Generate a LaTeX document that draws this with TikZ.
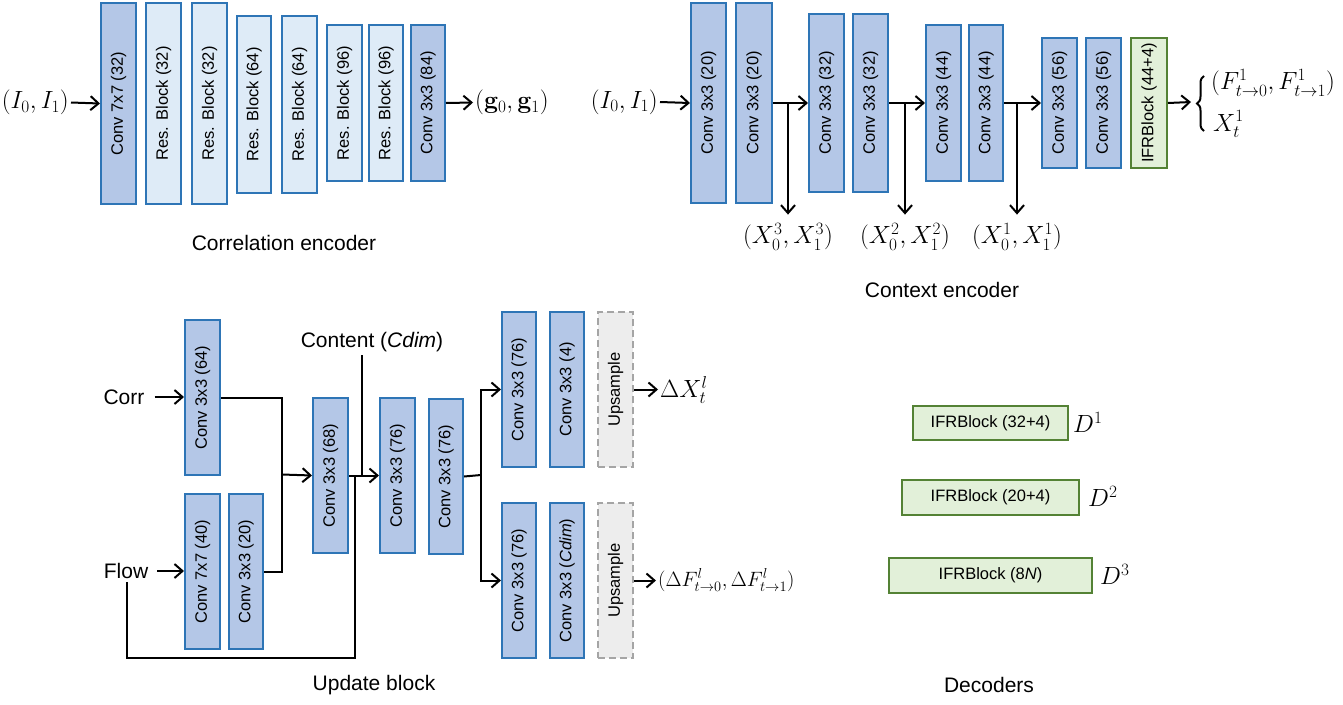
\documentclass[tikz,border=0pt]{standalone}
\usepackage[no-math]{fontspec}
\setmainfont{Liberation Sans}
\usepackage{graphicx}
\usetikzlibrary{arrows.meta,decorations.pathreplacing,calc}
\definecolor{bborder}{RGB}{46,117,182}
\definecolor{bfill}{RGB}{180,199,231}
\definecolor{lfill}{RGB}{222,235,247}
\definecolor{gborder}{RGB}{84,130,53}
\definecolor{gfill}{RGB}{226,240,217}
\definecolor{ugray}{RGB}{165,165,165}
\definecolor{ufill}{RGB}{237,237,237}
\tikzset{
  box/.style={draw=bborder, line width=2pt, fill=bfill, inner sep=0pt, font=\fontsize{16.5}{18}\selectfont},
  rbox/.style={box, fill=lfill},
  gbox/.style={box, draw=gborder, fill=gfill},
  ubox/.style={box, draw=ugray, fill=ufill, dash pattern=on 7pt off 4pt},
  conn/.style={line width=2pt, draw=black},
  arr/.style={conn, -{Straight Barb[length=8pt,width=14pt,line width=2pt]}},
  captext/.style={font=\fontsize{21}{24}\selectfont},
  mlab/.style={font=\fontsize{23}{26}\selectfont, inner sep=2pt},
}
\newcommand{\vb}[7]{\node[#6, anchor=north west, minimum width={(#4-#2)*1pt}, minimum height={(#5-#3)*1pt}] (#1) at (#2,#3) {\rotatebox{90}{#7}};}
\newcommand{\hb}[7]{\node[#6, anchor=north west, minimum width={(#4-#2)*1pt}, minimum height={(#5-#3)*1pt}] (#1) at (#2,#3) {#7};}
\begin{document}
\begin{tikzpicture}[x=1pt,y=-1pt]
\useasboundingbox (0,0) rectangle (1343,704);
% ---------------- Correlation encoder ----------------
\vb{b1}{100}{2}{135}{203}{box}{Conv 7x7 (32)}
\vb{b2}{145}{2}{180}{203}{rbox}{Res. Block (32)}
\vb{b3}{191}{2}{226}{203}{rbox}{Res. Block (32)}
\vb{b4}{236}{15}{270}{192}{rbox}{Res. Block (64)}
\vb{b5}{281}{15}{316}{192}{rbox}{Res. Block (64)}
\vb{b6}{326}{24}{361}{180}{rbox}{Res. Block (96)}
\vb{b7}{368}{24}{402}{180}{rbox}{Res. Block (96)}
\vb{b8}{410}{24}{444}{180}{box}{Conv 3x3 (84)}
\node[mlab, anchor=east] (cin) at (71,102.5) {$(I_0,I_1)$};
\node[mlab, anchor=west] (cout) at (473,102.5) {$(\mathbf{g}_0,\mathbf{g}_1)$};
\draw[arr] (cin.east) -- (b1.west);
\draw[arr] (b8.east) -- (cout.west);
\node[captext] (capcorr) at (284,243) {Correlation encoder};
% ---------------- Context encoder ----------------
\vb{c1}{690}{2}{725}{202}{box}{Conv 3x3 (20)}
\vb{c2}{735}{2}{771}{202}{box}{Conv 3x3 (20)}
\vb{c3}{808}{13}{843}{191}{box}{Conv 3x3 (32)}
\vb{c4}{852}{13}{887}{191}{box}{Conv 3x3 (32)}
\vb{c5}{925}{24}{960}{180}{box}{Conv 3x3 (44)}
\vb{c6}{968}{24}{1002}{180}{box}{Conv 3x3 (44)}
\vb{c7}{1041}{37}{1076}{167}{box}{Conv 3x3 (56)}
\vb{c8}{1085}{37}{1120}{167}{box}{Conv 3x3 (56)}
\vb{ifr}{1130}{37}{1166}{167}{gbox}{IFRBlock (44+4)}
\node[mlab, anchor=east] (xin) at (660,102) {$(I_0,I_1)$};
\draw[arr] (xin.east) -- (c1.west);
\draw[arr] (c2.east) -- (c2.east -| c3.west);
\draw[arr] (c4.east) -- (c4.east -| c5.west);
\draw[arr] (c6.east) -- (c6.east -| c7.west);
\coordinate (br1) at (788,102);
\coordinate (br2) at (905,102);
\coordinate (br3) at (1017,102);
\node[mlab] (x3) at (788,237) {$(X_0^3,X_1^3)$};
\node[mlab] (x2) at (905,237) {$(X_0^2,X_1^2)$};
\node[mlab] (x1) at (1017,237) {$(X_0^1,X_1^1)$};
\draw[arr, shorten >=7pt] (br1) -- (x3.north);
\draw[arr, shorten >=7pt] (br2) -- (x2.north);
\draw[arr, shorten >=7pt] (br3) -- (x1.north);
\coordinate (brc) at (1191,102);
\draw[arr] (ifr.east) -- (brc);
\draw[conn, decorate, decoration={brace, amplitude=7pt}] (1204,131) -- (1204,76);
\node[mlab, anchor=west] (fout) at (1209,83) {$(F^1_{t\to0},F^1_{t\to1})$};
\node[mlab, anchor=west] (xout) at (1211,124) {$X^1_t$};
\node[captext] (capctx) at (942,290) {Context encoder};
% ---------------- Update block ----------------
\vb{u1}{184}{319}{219}{474}{box}{Conv 3x3 (64)}
\vb{u2}{184}{493}{219}{648}{box}{Conv 7x7 (40)}
\vb{u3}{228}{493}{262}{648}{box}{Conv 3x3 (20)}
\vb{u4}{312}{397}{347}{552}{box}{Conv 3x3 (68)}
\vb{u5}{379}{397}{414}{552}{box}{Conv 3x3 (76)}
\vb{u6}{428}{398}{462}{553}{box}{Conv 3x3 (76)}
\vb{u7}{501}{311}{535}{466}{box}{Conv 3x3 (76)}
\vb{u8}{549}{311}{583}{466}{box}{Conv 3x3 (4)}
\vb{u9}{597}{311}{632}{466}{ubox}{Upsample}
\vb{u10}{501}{502}{535}{657}{box}{Conv 3x3 (76)}
\vb{u11}{549}{502}{583}{657}{box}{Conv 3x3 (\textit{Cdim})}
\vb{u12}{597}{502}{632}{657}{ubox}{Upsample}
\node[captext, inner xsep=10pt] (corr) at (124,397) {Corr};
\node[captext, inner xsep=9pt] (flow) at (126,571) {Flow};
\draw[arr] (corr.east) -- (corr.east -| u1.west);
\draw[arr] (flow.east) -- (flow.east -| u2.west);
\coordinate (jx) at (282,474.5);
\draw[conn] (u1.east) -| (jx);
\draw[conn] (u3.east) -| (jx);
\draw[arr] (jx) -- (u4.west);
\draw[arr] (u4.east) -- (u5.west);
\node[captext] (cont) at (372,342) {Content (\textit{Cdim})};
\coordinate (cj) at (362,474.5);
\draw[conn] (cont.south -| cj) -- (cj);
\coordinate (fj) at (355,474.5);
\coordinate (fb) at (127,658);
\draw[conn] (flow.south -| fb) -- (fb) -| (fj);
\coordinate (sp) at (481,475);
\draw[conn] (u6.east) -- (sp);
\draw[arr] (sp) |- (u7.west);
\draw[arr] (sp) |- (u10.west);
\node[mlab, anchor=west] (dx) at (658,390) {$\Delta X^l_t$};
\node[mlab, anchor=west, font=\fontsize{22}{25}\selectfont] (df) at (656,580) {$\big(\Delta F^l_{t\to0},\Delta F^l_{t\to1}\big)$};
\draw[arr] (u9.east) -- (u9.east -| dx.west);
\draw[arr] (u12.east) -- (u12.east -| df.west);
\node[captext] (capupd) at (374,685) {Update block};
% ---------------- Decoders ----------------
\hb{d1}{912}{405}{1067}{439}{gbox}{IFRBlock (32+4)}
\hb{d2}{901}{479}{1078}{514}{gbox}{IFRBlock (20+4)}
\hb{d3}{888}{557}{1091}{592}{gbox}{IFRBlock (8\textit{N})}
\node[mlab, anchor=west, font=\fontsize{24}{26}\selectfont] (D1) at (1071,422) {$D^1$};
\node[mlab, anchor=west, font=\fontsize{24}{26}\selectfont] (D2) at (1086,496) {$D^2$};
\node[mlab, anchor=west, font=\fontsize{24}{26}\selectfont] (D3) at (1098,574) {$D^3$};
\node[captext] (capdec) at (989,685) {Decoders};
\end{tikzpicture}
\end{document}
